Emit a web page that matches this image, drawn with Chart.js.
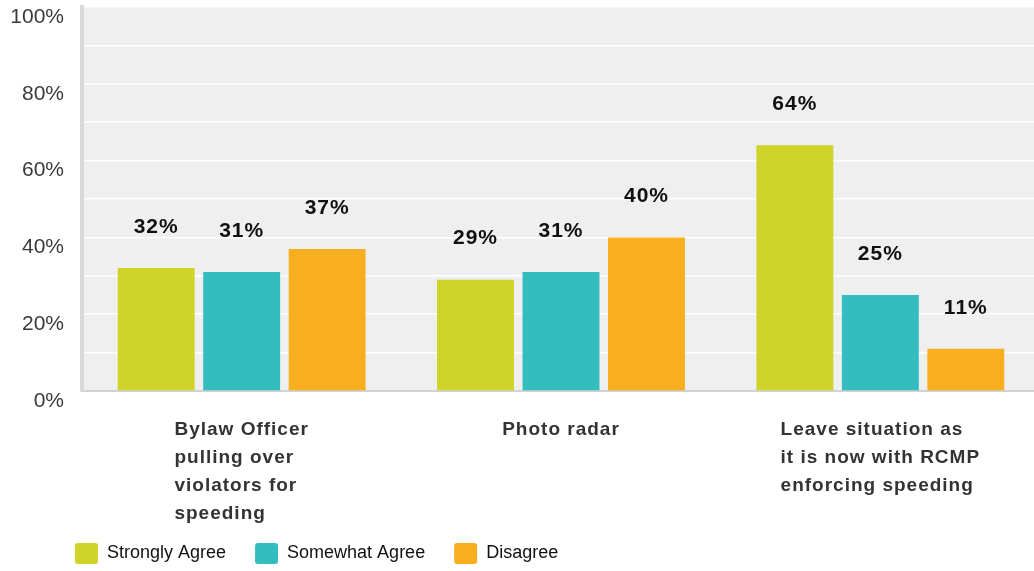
<!DOCTYPE html>
<html lang="en">
  <head>
    <meta charset="UTF-8" />
    <title>Speeding enforcement options</title>
    <script src="https://cdn.jsdelivr.net/npm/chart.js@4.4.0/dist/chart.umd.min.js"></script>
    <style>
      html, body { margin: 0; padding: 0; background: #fff; overflow: hidden; }
      .chart-box { width: 1040px; height: 571px; }
    </style>
  </head>
  <body>
    <div class="chart-box">
      <canvas id="survey-chart"></canvas>
    </div>

    <script>
      // categories (one array of lines per group)
      const categories = [
        ["Bylaw Officer", "pulling over", "violators for", "speeding"],
        ["Photo radar"],
        ["Leave situation as", "it is now with RCMP", "enforcing speeding"],
      ];
      const stronglyAgree = [32, 29, 64];
      const somewhatAgree = [31, 31, 25];
      const disagree = [37, 40, 11];
      const yTicks = [0, 20, 40, 60, 80, 100];

      const FONT = "'Liberation Sans', Arial, sans-serif";

      // grey plot background
      const plotBg = {
        id: "plotBg",
        beforeDraw(chart) {
          const { ctx, chartArea: a } = chart;
          ctx.save();
          ctx.fillStyle = "#efefef";
          ctx.fillRect(a.left, a.top, a.right - a.left, a.bottom - a.top);
          ctx.restore();
        },
      };

      // push the legend in so it starts under the y labels
      const legendShift = {
        id: "legendShift",
        afterLayout(chart) {
          if (chart.legend) chart.legend.left = 46;
        },
      };

      // value labels above bars
      const valueLabels = {
        id: "valueLabels",
        afterDatasetsDraw(chart) {
          const ctx = chart.ctx;
          ctx.save();
          ctx.font = "bold 21px " + FONT;
          ctx.letterSpacing = "1px";
          ctx.fillStyle = "#111";
          ctx.textAlign = "center";
          ctx.textBaseline = "middle";
          chart.data.datasets.forEach((ds, di) => {
            chart.getDatasetMeta(di).data.forEach((bar, i) => {
              ctx.fillText(ds.data[i] + "%", bar.x, bar.y - 41);
            });
          });
          ctx.restore();
        },
      };

      // category labels: block centred under the group, lines left aligned
      const catLabels = {
        id: "catLabels",
        afterDraw(chart) {
          const ctx = chart.ctx;
          const xs = chart.scales.x;
          ctx.save();
          ctx.font = "bold 19px " + FONT;
          ctx.letterSpacing = "1px";
          ctx.fillStyle = "#333";
          ctx.textAlign = "left";
          ctx.textBaseline = "middle";
          categories.forEach((lines, i) => {
            const cx = xs.getPixelForValue(i);
            const w = Math.max(...lines.map((l) => ctx.measureText(l).width));
            lines.forEach((l, k) => {
              ctx.fillText(l, cx - w / 2, xs.top + 39 + k * 28);
            });
          });
          ctx.restore();
        },
      };

      const ctx = document.getElementById("survey-chart").getContext("2d");
      new Chart(ctx, {
        type: "bar",
        data: {
          labels: categories,
          datasets: [
            { label: "Strongly Agree", data: stronglyAgree, backgroundColor: "#d0d428" },
            { label: "Somewhat Agree", data: somewhatAgree, backgroundColor: "#33bdbf" },
            { label: "Disagree", data: disagree, backgroundColor: "#f7af1f" },
          ],
        },
        options: {
          responsive: true,
          maintainAspectRatio: false,
          animation: false,
          categoryPercentage: 0.803,
          barPercentage: 0.9,
          layout: { padding: { top: 7, left: 0, right: 0, bottom: -3 } },
          plugins: {
            tooltip: { enabled: false },
            legend: {
              position: "bottom",
              align: "start",
              labels: {
                boxWidth: 23,
                boxHeight: 21,
                padding: 29,
                useBorderRadius: true,
                borderRadius: 3,
                color: "#111",
                font: { family: FONT, size: 18 },
              },
            },
          },
          scales: {
            x: {
              grid: { display: false },
              border: { color: "#d2d2d2", width: 2 },
              ticks: { display: false },
              afterFit(scale) {
                scale.height = 123;
                scale.paddingLeft = 0;
                scale.paddingRight = 0;
              },
            },
            y: {
              min: 0,
              max: 100,
              grid: { color: "#ffffff", lineWidth: 1.5, drawTicks: false },
              border: { color: "#d9d9d9", width: 4 },
              ticks: {
                stepSize: 10,
                padding: 18,
                labelOffset: 10,
                color: "#3a3a3a",
                font: { family: FONT, size: 21 },
                callback: (v) => (yTicks.includes(v) ? v + "%" : ""),
              },
              afterFit(scale) {
                scale.width = 82;
                scale.paddingTop = 0;
                scale.paddingBottom = 0;
              },
            },
          },
        },
        plugins: [plotBg, legendShift, valueLabels, catLabels],
      });
    </script>
  </body>
</html>
